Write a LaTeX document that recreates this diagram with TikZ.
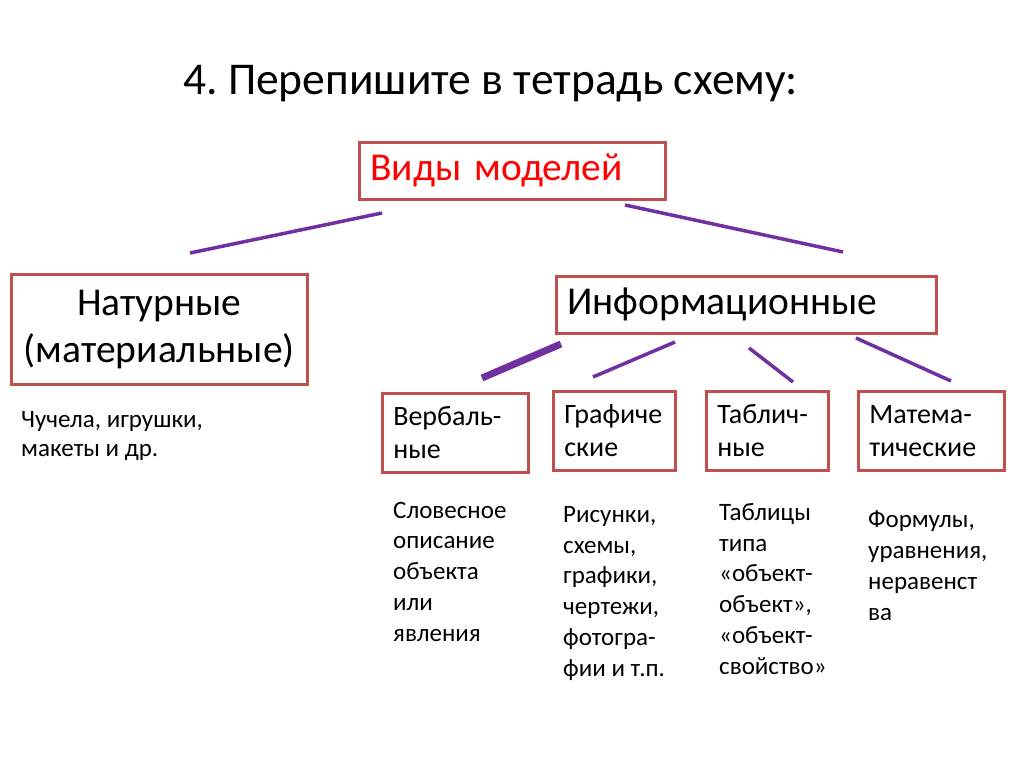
\documentclass[tikz,border=0pt]{standalone}
\usepackage{fontspec}
\setmainfont{Carlito}
\frenchspacing
\usetikzlibrary{positioning}
\definecolor{boxred}{HTML}{C0504D}
\definecolor{linkpurple}{HTML}{7030A0}

\begin{document}
\begin{tikzpicture}[x=1pt, y=-1pt,
		modelbox/.style={draw=boxred, line width=2.6pt, inner xsep=11pt, inner ysep=0pt, anchor=north west},
		bigbox/.style={modelbox, font=\fontsize{39.5}{47}\selectfont},
		smallbox/.style={modelbox, align=left, minimum height=79pt, font=\fontsize{28}{33}\selectfont},
		desc/.style={anchor=base west, align=left, inner sep=0pt, font=\fontsize{25}{30.7}\selectfont},
		link/.style={linkpurple, line width=3.5pt}
		]
		\useasboundingbox (0,0) rectangle (1024,767);
		% Title
		\node[anchor=base west, inner sep=0pt, font=\fontsize{45.5}{54}\selectfont] (title) at (183,95) {4. Перепишите в тетрадь схему:};
		% Top level
		\node[bigbox, minimum width=306pt, minimum height=57pt, text width=284pt, align=left, text=red] (vid) at (358,141) {Виды моделей};
		\node[bigbox, minimum width=296pt, minimum height=110pt, align=center, inner xsep=0pt] (nat) at (10,273) {Натурные\\(материальные)};
		\node[bigbox, minimum width=380pt, minimum height=57pt, text width=358pt, align=left] (inf) at (555,275) {Информационные};
		% Kinds of information models
		\foreach \name/\x/\y/\w/\txt in {verb/381/392/146/{Вербаль-\\ные}, graf/552/390/122/{Графиче\\ские}, tabl/705/390/122/{Таблич-\\ные}, mat/857/390/146/{Матема-\\тические}} {
			\node[smallbox, minimum width=\w pt, text width=\w pt-22pt] (\name) at (\x,\y) {\txt};
		}
		% Examples (anchored at the baseline of the last line)
		\node[desc, font=\fontsize{25}{29}\selectfont] (natex) at (21,456) {Чучела, игрушки,\\макеты и др.};
		\node[desc] (verbex) at (393,641) {Словесное\\описание\\объекта\\или\\явления};
		\node[desc] (grafex) at (563,676) {Рисунки,\\схемы,\\графики,\\чертежи,\\фотогра-\\фии и т.п.};
		\node[desc] (tablex) at (719,674) {Таблицы\\типа\\«объект-\\объект»,\\«объект-\\свойство»};
		\node[desc] (matex) at (868,620) {Формулы,\\уравнения,\\неравенст\\ва};
		% Free-standing connectors
		\coordinate (l1a) at (382,213); \coordinate (l1b) at (190,253);
		\coordinate (l2a) at (625,205); \coordinate (l2b) at (843,252);
		\coordinate (l3a) at (561,344); \coordinate (l3b) at (482,378);
		\coordinate (l4a) at (675,342); \coordinate (l4b) at (593,377);
		\coordinate (l5a) at (749,348); \coordinate (l5b) at (793,382);
		\coordinate (l6a) at (856,338); \coordinate (l6b) at (951,381);
		\draw[link] (l1a) -- (l1b);
		\draw[link] (l2a) -- (l2b);
		\draw[link, line width=7pt] (l3a) -- (l3b);
		\foreach \i in {4,5,6} {
			\draw[link] (l\i a) -- (l\i b);
		}
	\end{tikzpicture}
\end{document}
